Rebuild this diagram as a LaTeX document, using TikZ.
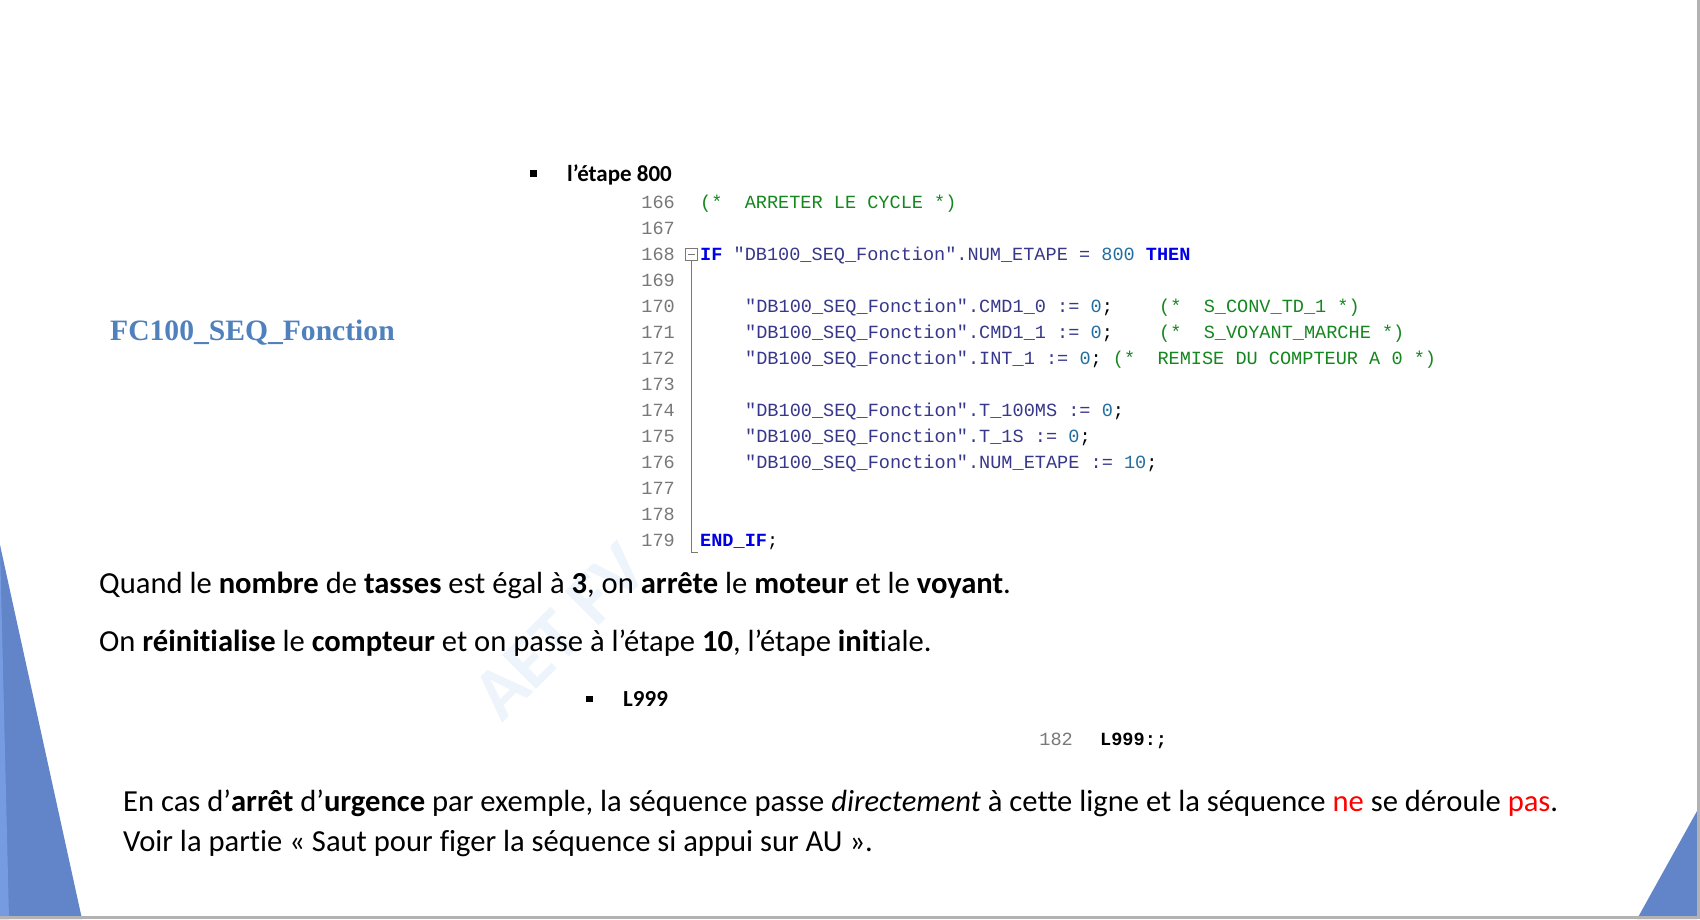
\documentclass[tikz,border=0pt]{standalone}
\usepackage{fontspec}
\setmainfont{Carlito}[Ligatures=CommonOff]
\newfontfamily\codefont{Liberation Mono}
\newfontfamily\titlefont{Liberation Serif}

\definecolor{slideblue}{RGB}{97,133,200}
\definecolor{lightblue}{RGB}{118,155,225}
\definecolor{titleblue}{RGB}{79,129,189}
\definecolor{identc}{RGB}{55,55,140}
\definecolor{numc}{RGB}{35,110,160}
\definecolor{kwc}{RGB}{0,0,230}
\definecolor{cmtc}{RGB}{20,135,30}
\definecolor{lngray}{RGB}{120,120,120}
\definecolor{markc}{RGB}{238,244,252}

\newcommand{\kwd}[1]{{\bfseries\color{kwc}#1}}
\newcommand{\numb}[1]{{\color{numc}#1}}
\newcommand{\cmtxt}[1]{{\color{cmtc}#1}}
\newcommand{\semi}{{\color{black};}}

\tikzset{
  lnum/.style={anchor=base east, inner sep=0pt, text=lngray, font=\codefont\fontsize{18.57}{20}\selectfont},
  code/.style={anchor=base west, inner sep=0pt, text=identc, font=\codefont\fontsize{18.57}{20}\selectfont},
  body/.style={anchor=base west, inner sep=0pt, font=\fontsize{30.6}{33}\selectfont},
  bullet/.style={anchor=base west, inner sep=0pt, font=\bfseries\fontsize{23}{25}\selectfont},
  square/.style={fill=black, inner sep=0pt, minimum size=6.5pt}
}

\begin{document}
\begin{tikzpicture}[x=1pt,y=-1pt]
\useasboundingbox (0,0) rectangle (1700,919);
\fill[white] (0,0) rectangle (1700,919);
\node[rotate=45, text=markc, font=\bfseries\fontsize{74}{74}\selectfont] (mark) at (560,632) {AET FV};

% slide corners
\fill[slideblue] (0,545) -- (82,919) -- (0,919) -- cycle;
\fill[lightblue] (0,545) -- (9,919) -- (0,919) -- cycle;
\fill[slideblue] (1697,811) -- (1697,919) -- (1637,919) -- cycle;
\fill[gray!60] (1697,0) rectangle (1700,919);
\fill[gray!60] (0,916) rectangle (1700,919);

\node[anchor=base west, inner sep=0pt, text=titleblue, font=\titlefont\bfseries\fontsize{29.6}{32}\selectfont] (title) at (110,340) {FC100\_SEQ\_Fonction};

% l'etape 800
\node[square] (b1) at (533.5,173.5) {};
\node[bullet] (etape) at (567,181) {l’étape 800};

\foreach \n [count=\i from 0] in {166,...,179}
  \node[lnum] (n\n) at (675,208+26*\i) {\n};

\node[code] (c166) at (700,208) {\cmtxt{(*\ \ ARRETER LE CYCLE *)}};
\node[code] (c168) at (700,260) {\kwd{IF} "DB100\_SEQ\_Fonction".NUM\_ETAPE = \numb{800} \kwd{THEN}};
\node[code] (c170) at (745,312) {"DB100\_SEQ\_Fonction".CMD1\_0 := \numb{0}\semi};
\node[code] (k170) at (1159,312) {\cmtxt{(*\ \ S\_CONV\_TD\_1 *)}};
\node[code] (c171) at (745,338) {"DB100\_SEQ\_Fonction".CMD1\_1 := \numb{0}\semi};
\node[code] (k171) at (1159,338) {\cmtxt{(*\ \ S\_VOYANT\_MARCHE *)}};
\node[code] (c172) at (745,364) {"DB100\_SEQ\_Fonction".INT\_1 := \numb{0}\semi{} \cmtxt{(*\ \ REMISE DU COMPTEUR A 0 *)}};
\node[code] (c174) at (745,416) {"DB100\_SEQ\_Fonction".T\_100MS := \numb{0}\semi};
\node[code] (c175) at (745,442) {"DB100\_SEQ\_Fonction".T\_1S := \numb{0}\semi};
\node[code] (c176) at (745,468) {"DB100\_SEQ\_Fonction".NUM\_ETAPE := \numb{10}\semi};
\node[code] (c179) at (700,546) {\kwd{END\_IF}\semi};

% fold marker
\node[draw=lngray, line width=0.9pt, inner sep=0pt, minimum size=12pt] (fold) at (691,254) {};
\draw[lngray, line width=1pt] ([xshift=-3.5pt]fold.center) -- ([xshift=3.5pt]fold.center);
\coordinate (foldend) at (691,552);
\draw[lngray, line width=1pt] (fold.south) -- (foldend) -- ++(7,0);

\node[body] (t1) at (99,593) {Quand le \textbf{nombre} de \textbf{tasses} est égal à \textbf{3}, on \textbf{arrête} le \textbf{moteur} et le \textbf{voyant}.};
\node[body] (t2) at (99,651) {On \textbf{réinitialise} le \textbf{compteur} et on passe à l’étape \textbf{10}, l’étape \textbf{init}iale.};

% L999
\node[square] (b2) at (589.5,699) {};
\node[bullet] (lbl) at (623,706) {L999};
\node[lnum] (n182) at (1073,745) {182};
\node[code, text=black, font=\codefont\bfseries\fontsize{18.57}{20}\selectfont] (c182) at (1100,745) {L999:;};

\node[body] (t3) at (123,811) {En cas d’\textbf{arrêt} d’\textbf{urgence} par exemple, la séquence passe \textit{directement} à cette ligne et la séquence {\color{red}ne} se déroule {\color{red}pas}.};
\node[body] (t4) at (123,851) {Voir la partie « Saut pour figer la séquence si appui sur AU ».};
\end{tikzpicture}
\end{document}
